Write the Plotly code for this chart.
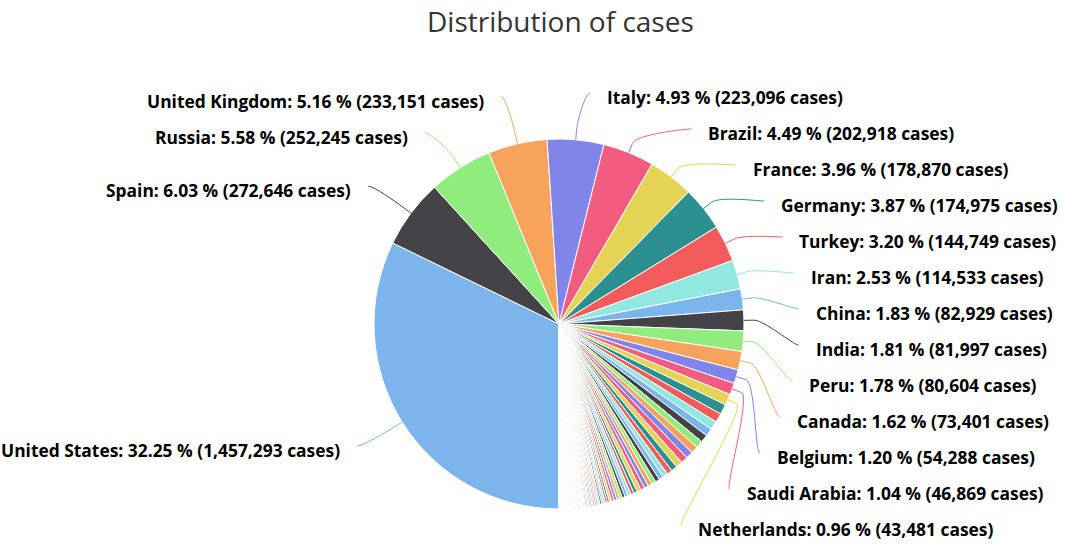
import math
import plotly.graph_objects as go

# ---------------- data ----------------
labeled_names = ["United States", "Spain", "Russia", "United Kingdom", "Italy", "Brazil",
                 "France", "Germany", "Turkey", "Iran", "China", "India", "Peru", "Canada",
                 "Belgium", "Saudi Arabia", "Netherlands"]
labeled_cases = [1457293, 272646, 252245, 233151, 223096, 202918, 178870, 174975, 144749,
                 114533, 82929, 81997, 80604, 73401, 54288, 46869, 43481]
labeled_pct = ["32.25", "6.03", "5.58", "5.16", "4.93", "4.49", "3.96", "3.87", "3.20",
               "2.53", "1.83", "1.81", "1.78", "1.62", "1.20", "1.04", "0.96"]

other_names = [
    "Mexico", "Pakistan", "Chile", "Switzerland", "Ecuador", "Sweden", "Portugal", "Qatar",
    "Belarus", "Singapore", "Ireland", "United Arab Emirates", "Bangladesh", "Poland",
    "Ukraine", "Israel", "Indonesia", "Romania", "Japan", "Austria", "Colombia", "Kuwait",
    "South Africa", "Philippines", "Dominican Republic", "Egypt", "South Korea", "Denmark",
    "Serbia", "Panama", "Czechia", "Norway", "Argentina", "Australia", "Malaysia", "Morocco",
    "Algeria", "Finland", "Bahrain", "Afghanistan", "Moldova", "Ghana", "Kazakhstan",
    "Nigeria", "Oman", "Armenia", "Luxembourg", "Bolivia", "Hungary", "Iraq", "Azerbaijan",
    "Cameroon", "Thailand", "Greece", "Uzbekistan", "Guinea", "Honduras",
    "Bosnia and Herzegovina", "Croatia", "Senegal", "Bulgaria", "Cote d'Ivoire", "Sudan",
    "Cuba", "Iceland", "Estonia", "North Macedonia", "Lithuania", "Guatemala", "New Zealand",
    "Slovakia", "Slovenia", "DR Congo", "Djibouti", "Tajikistan", "Somalia", "El Salvador",
    "Gabon", "Kyrgyzstan", "Tunisia", "Maldives", "Latvia", "Kosovo", "Sri Lanka", "Albania",
    "Guinea-Bissau", "Cyprus", "Niger", "Lebanon", "Costa Rica", "Mali", "Burkina Faso",
    "Kenya", "Andorra", "Paraguay", "Uruguay", "Diamond Princess", "Georgia", "San Marino",
    "Zambia", "Jordan", "Equatorial Guinea", "Malta", "Tanzania", "Jamaica", "Venezuela",
    "Taiwan", "Chad", "Congo", "Sierra Leone", "Palestine", "Benin", "Mauritius",
    "Cabo Verde", "Montenegro", "Vietnam", "Haiti", "Central African Republic", "Ethiopia",
    "Rwanda", "Togo", "Nepal", "Madagascar", "South Sudan", "Sao Tome and Principe",
    "Liberia", "Eswatini", "Myanmar", "Uganda", "Brunei", "Mongolia", "Cambodia",
    "Mozambique", "Guyana", "Trinidad and Tobago", "Bahamas", "Monaco", "Barbados", "Yemen",
    "Liechtenstein", "Malawi", "Libya", "Syria", "Angola", "Zimbabwe", "Eritrea", "Burundi",
    "Nicaragua", "Antigua and Barbuda", "Timor-Leste", "Botswana", "Gambia", "Grenada",
    "Bhutan", "Laos", "Belize", "Fiji", "Saint Lucia", "Saint Vincent", "Dominica",
    "Namibia", "Saint Kitts and Nevis", "Holy See", "Comoros", "Seychelles", "Suriname",
    "MS Zaandam", "Mauritania", "Papua New Guinea", "Western Sahara", "Lesotho"]
other_cases = [
    40186, 35788, 34381, 30413, 30298, 28582, 28319, 27741, 27730, 26098, 23956, 21084,
    20065, 18016, 17330, 16539, 16496, 16247, 16203, 16058, 13610, 12860, 12739, 11876,
    11320, 11228, 11018, 10927, 10438, 9268, 8406, 8237, 7134, 7019, 6819, 6741, 6629, 6228,
    6198, 5639, 5553, 5530, 5417, 5162, 4341, 4044, 3930, 3577, 3380, 3143, 3138, 3105,
    3025, 2788, 2612, 2473, 2460, 2236, 2224, 2189, 2138, 2061, 1964, 1840, 1802, 1774,
    1762, 1523, 1518, 1497, 1477, 1465, 1455, 1331, 1322, 1219, 1210, 1209, 1117, 1032,
    1031, 997, 944, 925, 916, 913, 910, 889, 886, 843, 806, 782, 781, 761, 724, 719, 712,
    677, 655, 654, 596, 594, 512, 509, 509, 504, 440, 428, 391, 387, 375, 339, 332, 328,
    324, 314, 310, 301, 287, 287, 263, 249, 238, 236, 235, 226, 202, 182, 160, 141, 136,
    122, 119, 117, 116, 96, 96, 86, 85, 82, 70, 64, 50, 48, 42, 39, 27, 25, 25, 24, 24,
    23, 21, 21, 19, 18, 18, 18, 18, 16, 16, 15, 12, 11, 11, 10, 9, 8, 8, 6, 1]

palette = ["#7cb5ec", "#434348", "#90ed7d", "#f7a35c", "#8085e9",
           "#f15c80", "#e4d354", "#2b908f", "#f45b5b", "#91e8e1"]

title_text = "Distribution of cases"

# ---------------- geometry (pixels) ----------------
W, H = 1069, 547
CX, CY, R = 559, 324, 185          # pie centre / radius
LABEL_R = 230                      # radius of the label path
BREAK = 10                         # connector break distance outside the slice
GAP = 16                           # gap between connector end and text
BOX = 36                           # label slot height
TOP_LIMIT, BOTTOM_LIMIT = 75, 547  # label distribution range
FONT = "Open Sans"

names = labeled_names + other_names
values = labeled_cases + other_cases
colors = [palette[i % len(palette)] for i in range(len(values))]
total = float(sum(values))

# slice mid angles (degrees clockwise from 12 o'clock, starting at 6 o'clock)
mids = []
cum = 0.0
for v in values:
    start = 180.0 + 360.0 * cum / total
    mids.append((start + 180.0 * v / total) % 360.0)
    cum += v

fig = go.Figure()
fig.add_trace(go.Pie(
    values=values, labels=names, sort=False, direction="clockwise", rotation=180,
    marker=dict(colors=colors, line=dict(color="#ffffff", width=1)),
    textinfo="none", hoverinfo="label+value+percent", showlegend=False,
    domain=dict(x=[(CX - R) / W, (CX + R) / W], y=[1 - (CY + R) / H, 1 - (CY - R) / H]),
))

# label distribution (Highcharts-like)
def distribute(targets, size, lo, hi):
    boxes = [{"t": [t], "n": 1} for t in targets]
    while True:
        for b in boxes:
            tgt = (min(b["t"]) + max(b["t"])) / 2.0
            s = size * b["n"]
            b["pos"] = min(max(tgt - s / 2.0, lo), hi - s)
        merged = False
        i = len(boxes) - 1
        while i > 0:
            a, b = boxes[i - 1], boxes[i]
            if a["pos"] + size * a["n"] > b["pos"] + 1e-9:
                a["t"] += b["t"]
                a["n"] += b["n"]
                boxes.pop(i)
                merged = True
            i -= 1
        if not merged:
            break
    out = []
    for b in boxes:
        for k in range(b["n"]):
            out.append(b["pos"] + size * (k + 0.5))
    return out

items = []
for i in range(len(labeled_names)):
    a = math.radians(mids[i])
    items.append(dict(
        i=i, right=math.sin(a) > 0,
        natural=CY - LABEL_R * math.cos(a),
        tx=CX + R * math.sin(a), ty=CY - R * math.cos(a),
        bx=CX + (R + BREAK) * math.sin(a), by=CY - (R + BREAK) * math.cos(a),
    ))

annotations = []
shapes = []
for side in (True, False):
    group = sorted([it for it in items if it["right"] == side], key=lambda d: d["natural"])
    ys = distribute([g["natural"] for g in group], BOX, TOP_LIMIT, BOTTOM_LIMIT)
    for g, y in zip(group, ys):
        use_y = g["natural"] if (y < CY - LABEL_R + 4 or y > CY + LABEL_R - 4) else y
        dy = use_y - CY
        off = math.sqrt(max(LABEL_R ** 2 - dy ** 2, 0.0))
        i = g["i"]
        text = f"{labeled_names[i]}: {labeled_pct[i]} % ({labeled_cases[i]:,} cases)"
        if side:
            text_x = CX + 26.5 + off
            ax = text_x - GAP
            c1x = ax - 5
            xanchor = "left"
        else:
            text_x = CX - 22.5 - off
            ax = text_x + GAP
            c1x = ax + 5
            xanchor = "right"
        c2x = 2 * g["bx"] - g["tx"]
        c2y = 2 * g["by"] - g["ty"]
        path = (f"M {ax:.2f},{y:.2f} C {c1x:.2f},{y:.2f} {c2x:.2f},{c2y:.2f} "
                f"{g['bx']:.2f},{g['by']:.2f} L {g['tx']:.2f},{g['ty']:.2f}")
        shapes.append(dict(type="path", path=path, xref="x", yref="y",
                           line=dict(color=colors[i], width=1), layer="above"))
        annotations.append(dict(
            x=text_x, y=y + 4, xref="x", yref="y", text=text, showarrow=False,
            xanchor=xanchor, yanchor="middle", borderpad=0,
            font=dict(family=FONT, size=17.4, color="#000000", weight="bold"),
        ))

annotations.append(dict(
    x=560.5, y=21, xref="x", yref="y", text=title_text, showarrow=False,
    xanchor="center", yanchor="middle", borderpad=0,
    font=dict(family=FONT, size=28, color="#333333"),
))

fig.update_layout(
    width=W, height=H,
    margin=dict(l=0, r=0, t=0, b=0),
    paper_bgcolor="#ffffff", plot_bgcolor="rgba(0,0,0,0)",
    xaxis=dict(range=[0, W], visible=False, fixedrange=True),
    yaxis=dict(range=[H, 0], visible=False, fixedrange=True),
    shapes=shapes, annotations=annotations,
    font=dict(family=FONT),
)

fig.write_html("out.html", config=dict(displayModeBar=False),
               post_script="document.body.style.margin='0';document.body.style.overflow='hidden';")
